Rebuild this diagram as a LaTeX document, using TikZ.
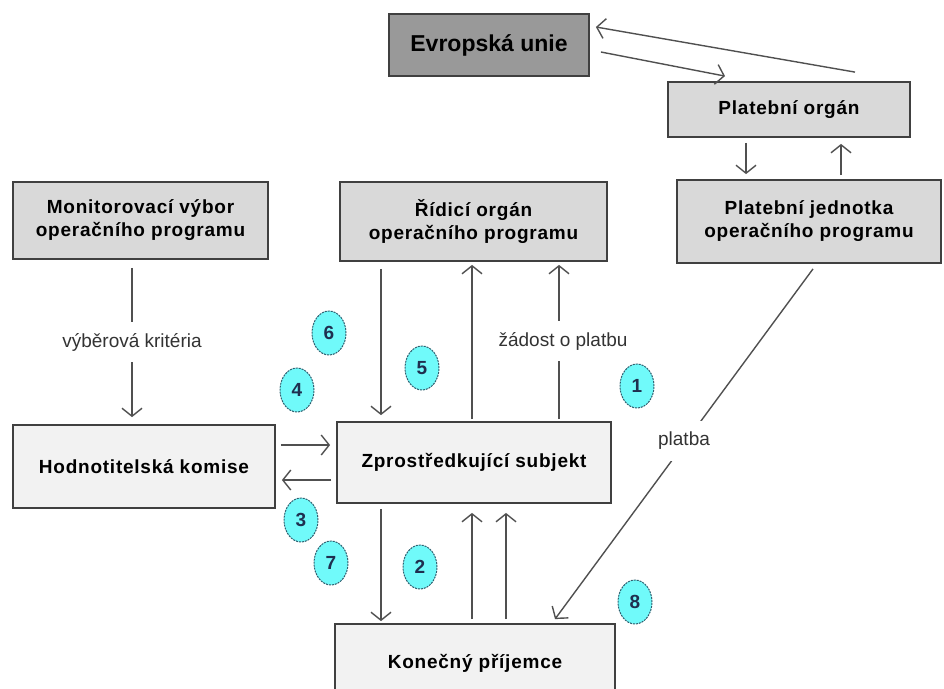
\documentclass[tikz,border=0pt]{standalone}
\usepackage{fontspec}
\setmainfont{Liberation Sans}
\newfontfamily\boxfont{Liberation Sans}[LetterSpace=4]
\usetikzlibrary{arrows.meta,calc,shapes.geometric}
\definecolor{boxline}{HTML}{404040}
\definecolor{darkfill}{HTML}{999999}
\definecolor{midfill}{HTML}{D9D9D9}
\definecolor{lightfill}{HTML}{F2F2F2}
\definecolor{numfill}{HTML}{70FAFA}
\definecolor{numline}{HTML}{2F5F6F}
\definecolor{numtext}{HTML}{1F2F4F}
\definecolor{arrline}{HTML}{505050}
\definecolor{lbltext}{HTML}{333333}
\begin{document}
\begin{tikzpicture}[x=1pt,y=-1pt,
  box/.style={draw=boxline,line width=1.8pt,inner sep=0pt,align=center,
    font=\boxfont\bfseries\fontsize{19}{23}\selectfont},
  midbox/.style={box,fill=midfill},
  lightbox/.style={box,fill=lightfill},
  ln/.style={draw=arrline,line width=1.4pt},
  arr/.style={ln,-{Straight Barb[length=8pt,width=20pt]}},
  lbl/.style={fill=white,inner xsep=2pt,inner ysep=11pt,text=lbltext,
    font=\fontsize{19}{22}\selectfont},
  num/.style={ellipse,draw=numline,fill=numfill,line width=1pt,
    dash pattern=on 2pt off 1pt,minimum width=34pt,minimum height=44pt,
    inner sep=0pt,text=numtext,font=\bfseries\fontsize{19}{19}\selectfont}]
\useasboundingbox (0,0) rectangle (944,688);
\clip (0,0) rectangle (944,688);

% boxes
\node[box,fill=darkfill,minimum width=200pt,minimum height=62pt,
  font=\bfseries\fontsize{23}{27}\selectfont] (eu) at (489,45) {Evropská unie};
\node[midbox,minimum width=242pt,minimum height=55pt] (po) at (789,109.5) {Platební orgán};
\node[midbox,minimum width=264pt,minimum height=83pt] (pj) at (809,221.5) {Platební jednotka\\operačního programu};
\node[midbox,minimum width=267pt,minimum height=79pt] (ro) at (473.5,221.5) {Řídicí orgán\\operačního programu};
\node[midbox,minimum width=255pt,minimum height=77pt] (mv) at (140.5,220.5) {Monitorovací výbor\\operačního programu};
\node[lightbox,minimum width=262pt,minimum height=83pt] (hk) at (144,466.5) {Hodnotitelská komise};
\node[lightbox,minimum width=274pt,minimum height=81pt] (zs) at (474,462.5) {Zprostředkující subjekt};
\node[lightbox,minimum width=280pt,minimum height=78pt] (kp) at (475,663) {Konečný příjemce};

% helper coordinates
\coordinate (xa) at (381,0);
\coordinate (xb) at (472,0);
\coordinate (xc) at (559,0);
\coordinate (xd) at (506,0);
\coordinate (xe) at (746,0);
\coordinate (xf) at (841,0);
\coordinate (xg) at (132,0);
\coordinate (ya) at (0,445);
\coordinate (yb) at (0,480);

% connectors
\draw[arr] ($(eu.east)+(11,7)$) -- ($(po.north)+(-64,-5)$);
\draw[arr] ($(po.north)+(66,-9)$) -- ($(eu.east)+(6,-18)$);
\draw[arr,shorten <=5pt,shorten >=5pt] (po.south -| xe) -- (pj.north -| xe);
\draw[arr,shorten <=4pt,shorten >=6pt] (pj.north -| xf) -- (po.south -| xf);
\draw[arr,shorten <=8pt,shorten >=7pt] (mv.south -| xg) -- (hk.north -| xg);
\draw[arr,shorten <=7pt,shorten >=6pt] (ro.south -| xa) -- (zs.north -| xa);
\draw[arr,shorten <=2pt,shorten >=3pt] (zs.north -| xb) -- (ro.south -| xb);
\draw[arr,shorten <=2pt,shorten >=3pt] (zs.north -| xc) -- (ro.south -| xc);
\draw[arr,shorten <=5pt,shorten >=6pt] (hk.east |- ya) -- (zs.west |- ya);
\draw[arr,shorten <=5pt,shorten >=6pt] (zs.west |- yb) -- (hk.east |- yb);
\draw[arr,shorten <=5pt,shorten >=2pt] (zs.south -| xa) -- (kp.north -| xa);
\draw[arr,shorten <=4pt,shorten >=9pt] (kp.north -| xb) -- (zs.south -| xb);
\draw[arr,shorten <=4pt,shorten >=9pt] (kp.north -| xd) -- (zs.south -| xd);
\draw[arr] ($(pj.south)+(4,5)$) -- ($(kp.north)+(80,-4)$);

% labels on connectors
\node[lbl] (vk) at (132,342) {výběrová kritéria};
\node[lbl] (zp) at (563,341) {žádost o platbu};
\node[lbl] (pl) at (684,441) {platba};

% step numbers
\node[num] (n1) at (637,386) {1};
\node[num] (n2) at (420,567) {2};
\node[num] (n3) at (301,520) {3};
\node[num] (n4) at (297,390) {4};
\node[num] (n5) at (422,368) {5};
\node[num] (n6) at (329,333) {6};
\node[num] (n7) at (331,563) {7};
\node[num] (n8) at (635,602) {8};
\end{tikzpicture}
\end{document}
